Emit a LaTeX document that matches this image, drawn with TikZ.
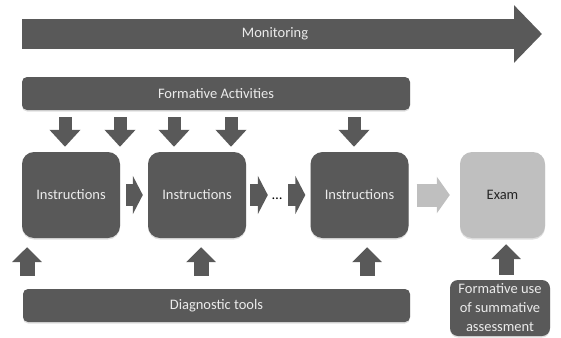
\documentclass[tikz,border=0pt]{standalone}
\usepackage{fontspec}
\setmainfont{Carlito}
\usetikzlibrary{arrows.meta,shadows}
\definecolor{dk}{HTML}{595959}
\definecolor{lt}{HTML}{BFBFBF}
\definecolor{tx}{HTML}{EBEBEB}
\definecolor{tdk}{HTML}{262626}
\begin{document}
\begin{tikzpicture}[x=1pt,y=-1pt,
  font=\fontsize{14.5}{19}\selectfont,
  box/.style={fill=dk, text=tx, rounded corners=12pt, minimum width=98pt, minimum height=86pt, inner sep=0pt,
    drop shadow={shadow xshift=0pt, shadow yshift=-1.5pt, opacity=0.25}},
  bar/.style={fill=dk, text=tx, rounded corners=5pt, minimum height=33pt, inner sep=0pt,
    drop shadow={shadow xshift=0pt, shadow yshift=-1.5pt, opacity=0.25}},
  dnarrow/.style={draw=dk, line width=13pt, -{Triangle[width=30pt,length=17pt]}},
  uparrow/.style={draw=dk, line width=15pt, -{Triangle[width=29pt,length=15pt]}},
  rtarrow/.style={draw=dk, line width=22pt, -{Triangle[width=38pt,length=10pt]}},
  ltarrow/.style={draw=lt, line width=23pt, -{Triangle[width=36pt,length=13pt]}},
]
\useasboundingbox (0,0) rectangle (561,337);

% Monitoring arrow
\coordinate (ms) at (22,34);
\coordinate (me) at (542,34);
\draw[draw=dk, line width=30pt, -{Triangle[width=56pt,length=28pt]}] (ms) -- (me);
\node[text=tx] (mon) at (275,34) {Monitoring};

% bars
\node[bar, minimum width=388pt] (fa) at (216,93.5) {Formative Activities};
\node[bar, minimum width=387pt] (dt) at (216.5,305.5) {Diagnostic tools};
\node[fill=dk, text=tx, rounded corners=8pt, minimum width=100pt, minimum height=56pt, inner sep=0pt,
  align=center, font=\fontsize{14.5}{19}\selectfont,
  drop shadow={shadow xshift=0pt, shadow yshift=-1.5pt, opacity=0.25}]
  (fu) at (500,308) {Formative use\\of summative\\assessment};

% boxes
\node[box] (b1) at (71,195) {Instructions};
\node[box] (b2) at (197,195) {Instructions};
\node[box] (b3) at (359.5,195) {Instructions};
\node[box, fill=lt, text=tdk, minimum width=85pt] (ex) at (502.5,195) {Exam};
\node[inner sep=0pt] (dots) at (277,199) {…};

% down arrows from Formative Activities
\foreach \n/\x/\b in {d1/65/b1, d2/120/b1, d3/174/b2, d4/231/b2, d5/354/b3}{
  \coordinate (\n) at (\x,0);
  \draw[dnarrow, shorten <=7pt, shorten >=5pt] (\n |- fa.south) -- (\n |- \b.north);
}

% up arrows from Diagnostic tools
\foreach \n/\x/\b in {u1/27/b1, u2/201/b2, u3/367/b3}{
  \coordinate (\n) at (\x,0);
  \draw[uparrow, shorten <=13pt, shorten >=9pt] (\n |- dt.north) -- (\n |- \b.south);
}
\coordinate (u4) at (506,0);
\draw[uparrow, shorten <=5pt, shorten >=6pt] (u4 |- fu.north) -- (u4 |- ex.south);

% horizontal arrows
\draw[rtarrow, shorten <=6pt, shorten >=5pt] (b1.east) -- (b2.west);
\draw[rtarrow, shorten <=4pt, shorten >=4pt] (b2.east) -- (b2.east -| dots.west);
\draw[rtarrow, shorten <=6pt, shorten >=5pt] (b3.west -| dots.east) -- (b3.west);
\draw[ltarrow, shorten <=8pt, shorten >=10pt] (b3.east) -- (ex.west);
\end{tikzpicture}
\end{document}
